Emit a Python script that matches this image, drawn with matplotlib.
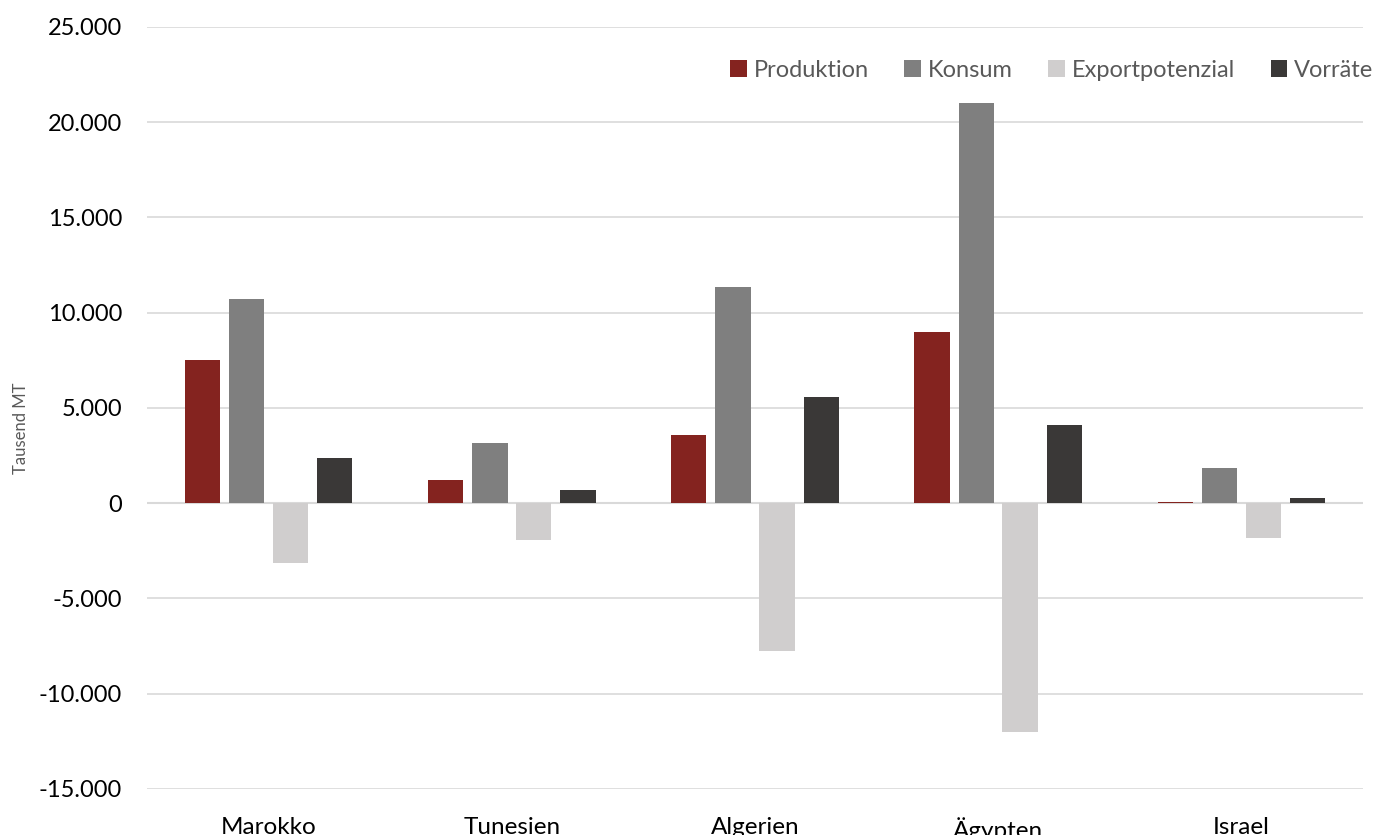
import numpy as np
import matplotlib
matplotlib.use("Agg")
import matplotlib.pyplot as plt
from matplotlib.ticker import FuncFormatter

plt.rcParams["font.family"] = ["Lato", "DejaVu Sans"]

countries = ["Marokko", "Tunesien", "Algerien", "Ägypten", "Israel"]
produktion = [7500, 1200, 3570, 8980, 80]
konsum = [10700, 3150, 11350, 21000, 1870]
exportpotenzial = [-3150, -1950, -7780, -12020, -1850]
vorraete = [2400, 700, 5580, 4130, 300]

series = [("Produktion", produktion, "#84231F"),
          ("Konsum", konsum, "#7F7F7F"),
          ("Exportpotenzial", exportpotenzial, "#D0CECE"),
          ("Vorräte", vorraete, "#3A3837")]

fig = plt.figure(figsize=(13.75, 8.35), dpi=100)
ax = fig.add_axes([0.1069, 0.0551, 0.8844, 0.9126])

x = np.arange(len(countries))
offsets = [-0.272, -0.09, 0.09, 0.272]
w = 0.145
for (name, vals, col), off in zip(series, offsets):
    ax.bar(x + off, vals, width=w, color=col, label=name, zorder=3)

ax.set_xlim(-0.5, len(countries) - 0.5)
ax.set_ylim(-15000, 25000)
ax.set_yticks(np.arange(-15000, 25001, 5000))
ax.yaxis.set_major_formatter(FuncFormatter(lambda v, p: f"{int(v):,}".replace(",", ".")))
ax.grid(axis="y", color="#D9D9D9", lw=1.2, zorder=0)
ax.axhline(0, color="#D9D9D9", lw=1.5, zorder=2)
for s in ax.spines.values():
    s.set_visible(False)
ax.tick_params(axis="y", length=0, pad=18, labelsize=17, labelcolor="#000000")
ax.tick_params(axis="x", length=0, pad=20, labelsize=17.5, labelcolor="#000000")
ax.set_xticks(x)
ax.set_xticklabels(countries)
ax.set_ylabel("Tausend MT", fontsize=12, color="#595959", va="center")
ax.yaxis.set_label_coords(-0.104, 0.474)

ax.legend(loc="upper right", bbox_to_anchor=(1.026, 0.985), ncol=4, frameon=False,
          fontsize=17, labelcolor="#595959", handlelength=0.7, handleheight=0.7,
          handletextpad=0.3, columnspacing=1.5)

fig.savefig("out.png", dpi=100)
